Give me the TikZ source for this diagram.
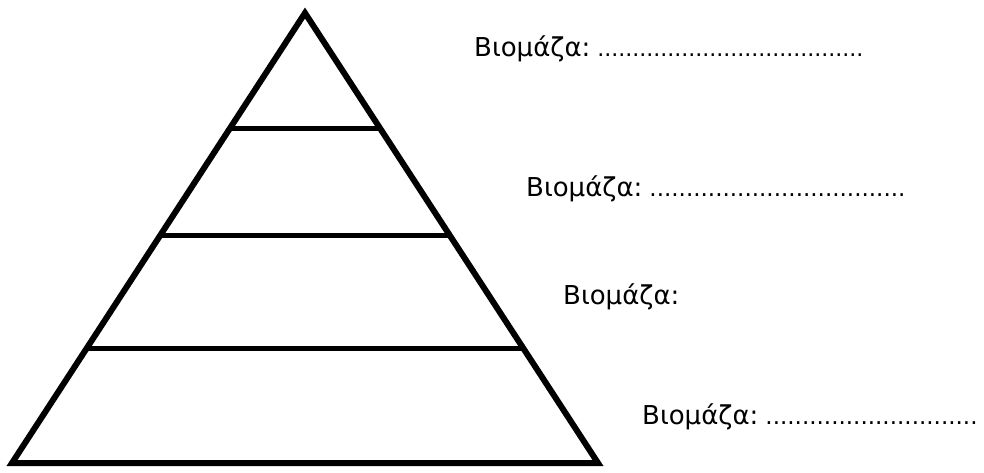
\documentclass[tikz,border=0pt]{standalone}
\usepackage{fontspec}
\setmainfont{DejaVu Sans}
\newcommand{\leaderdots}[2]{{\fontsize{#1}{#1}\selectfont#2}}
\begin{document}
\begin{tikzpicture}[x=1pt,y=-1pt,
  edge/.style={line width=6pt,line join=miter},
  tier/.style={line width=5pt},
  biolabel/.style={anchor=base west,inner sep=0pt,font=\fontsize{26}{30}\selectfont}]
\useasboundingbox (0,0) rectangle (984,472);
% pyramid outline
\coordinate (apex) at (305,13);
\coordinate (bl) at (12,463);
\coordinate (br) at (598,463);
\draw[edge] (apex) -- (br) -- (bl) -- cycle;
% tier dividers
\coordinate (l1) at (230,128);
\coordinate (r1) at (380,128);
\coordinate (l2) at (160,235);
\coordinate (r2) at (450,235);
\coordinate (l3) at (88,348);
\coordinate (r3) at (522,348);
\draw[tier] (l1) -- (r1);
\draw[tier] (l2) -- (r2);
\draw[tier] (l3) -- (r3);
% biomass labels
\node[biolabel] (b1) at (474,56) {Βιομάζα:\hspace{7pt}\leaderdots{22}{......................................}};
\node[biolabel] (b2) at (526,196) {Βιομάζα:\hspace{7pt}\leaderdots{23}{...................................}};
\node[biolabel] (b3) at (563,304) {Βιομάζα:};
\node[biolabel] (b4) at (642,424) {Βιομάζα:\hspace{7pt}\leaderdots{23}{.............................}};
\end{tikzpicture}
\end{document}
